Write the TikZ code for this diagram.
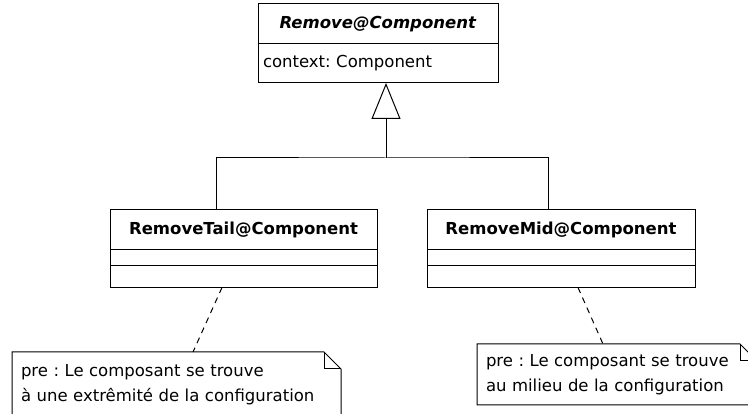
\documentclass[tikz,border=0pt]{standalone}
\usepackage{fontspec}
\setmainfont{DejaVu Sans}
\frenchspacing
\usetikzlibrary{positioning, arrows.meta}

\begin{document}
\begin{tikzpicture}[x=1pt, y=-1pt, line width=1pt,
    every node/.style={font=\fontsize{16.5}{24.5}\selectfont, outer sep=0pt},
    classStyle/.style={draw, inner sep=0pt, minimum height=40pt},
    partStyle/.style={draw, inner sep=0pt},
    noteStyle/.style={anchor=north west, inner xsep=9pt, inner ysep=0pt, align=left}]
    \useasboundingbox (0,0) rectangle (748,414);
    \clip (0,0) rectangle (748,414);

    \node[classStyle, minimum width=240pt](remove) at (378,24) {\textbf{\textit{Remove@Component}}};
    \node[partStyle, minimum height=39pt, inner xsep=5pt, text width=230pt, below=0pt of remove](removeAttr) {context: Component};

    \node[classStyle, minimum width=267pt](tailName) at (243.5,229.5) {\textbf{RemoveTail@Component}};
    \node[partStyle, minimum width=267pt, minimum height=16pt, below=0pt of tailName](tailAttr) {};
    \node[partStyle, minimum width=267pt, minimum height=22pt, below=0pt of tailAttr](tailOps) {};

    \node[classStyle, minimum width=268pt](midName) at (561,229.5) {\textbf{RemoveMid@Component}};
    \node[partStyle, minimum width=268pt, minimum height=16pt, below=0pt of midName](midAttr) {};
    \node[partStyle, minimum width=268pt, minimum height=22pt, below=0pt of midAttr](midOps) {};

    \node[noteStyle, text width=311pt, minimum height=65pt](tailNote) at (12,352)
        {pre : Le composant se trouve\\ à une extrêmité de la configuration};
    \node[noteStyle, text width=262pt, minimum height=61pt](midNote) at (477,344)
        {pre : Le composant se trouve\\ au milieu de la configuration};

    \coordinate (joint) at (386,158);

    % generalisation
    \draw ([xshift=-27.5pt]tailName.north) |- (joint) -| ([xshift=-13pt]midName.north);
    \draw[-{Triangle[open, length=36pt, width=29pt]}] (joint) -- (joint |- removeAttr.south);

    % notes
    \draw (tailNote.north west) -- ([xshift=-17pt]tailNote.north east) -- ([yshift=-17pt]tailNote.north east)
        -- (tailNote.south east) -- (tailNote.south west) -- cycle;
    \draw ([xshift=-17pt]tailNote.north east) |- ([yshift=-17pt]tailNote.north east);
    \draw (midNote.north west) -- ([xshift=-17pt]midNote.north east) -- ([yshift=-17pt]midNote.north east)
        -- (midNote.south east) -- (midNote.south west) -- cycle;
    \draw ([xshift=-17pt]midNote.north east) |- ([yshift=-17pt]midNote.north east);

    \draw[dash pattern=on 6pt off 5pt] ([xshift=-21.5pt]tailOps.south) -- ([xshift=16.5pt]tailNote.north);
    \draw[dash pattern=on 6pt off 5pt] ([xshift=17pt]midOps.south) -- ([xshift=-14pt]midNote.north);
\end{tikzpicture}
\end{document}
